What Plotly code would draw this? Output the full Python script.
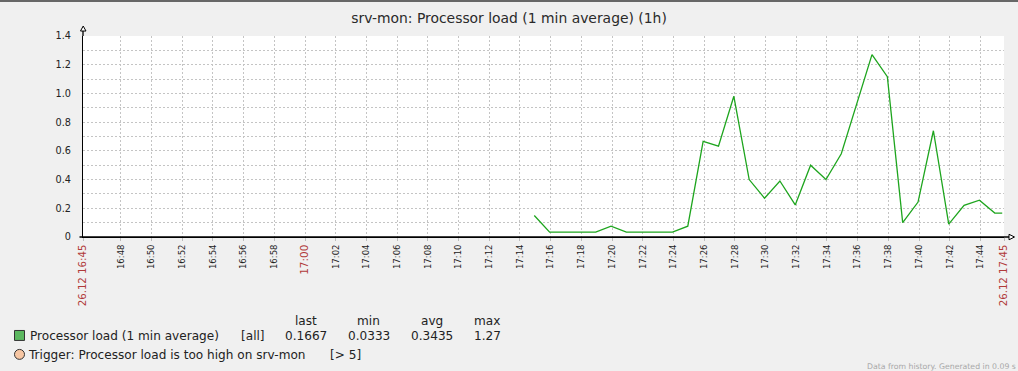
import plotly.graph_objects as go

# ---------------- data ----------------
DAY = "2023-12-26"
TITLE = "srv-mon: Processor load (1 min average) (1h)"
RANGE_START = "16:45:32"
RANGE_END = "17:45:32"
EDGE_LABELS = ["26.12 16:45", "26.12 17:45"]

times = [
    "17:14:56", "17:15:56", "17:16:56", "17:17:56", "17:18:56", "17:19:56",
    "17:20:56", "17:21:56", "17:22:56", "17:23:56", "17:24:56", "17:25:56",
    "17:26:56", "17:27:56", "17:28:56", "17:29:56", "17:30:56", "17:31:56",
    "17:32:56", "17:33:56", "17:34:56", "17:35:56", "17:36:56", "17:37:56",
    "17:38:56", "17:39:56", "17:40:56", "17:41:56", "17:42:56", "17:43:56",
    "17:44:56", "17:45:25",
]
load = [
    0.15, 0.0333, 0.0333, 0.0333, 0.0333, 0.075, 0.0333, 0.0333, 0.0333, 0.0333,
    0.075, 0.6667, 0.6333, 0.98, 0.40, 0.27, 0.39, 0.2233, 0.50, 0.40,
    0.58, 0.93, 1.27, 1.1167, 0.10, 0.2433, 0.74, 0.09, 0.22, 0.2567,
    0.1667, 0.1667,
]
minute_ticks = [
    "16:48", "16:50", "16:52", "16:54", "16:56", "16:58", "17:00", "17:02",
    "17:04", "17:06", "17:08", "17:10", "17:12", "17:14", "17:16", "17:18",
    "17:20", "17:22", "17:24", "17:26", "17:28", "17:30", "17:32", "17:34",
    "17:36", "17:38", "17:40", "17:42", "17:44",
]
highlight_ticks = ["17:00"]
y_ticks = [0, 0.1, 0.2, 0.3, 0.4, 0.5, 0.6, 0.7, 0.8, 0.9, 1.0, 1.1, 1.2, 1.3, 1.4]
y_labels = ["0", "", "0.2", "", "0.4", "", "0.6", "", "0.8", "", "1.0", "", "1.2", "", "1.4"]

series_name = "Processor load (1 min average)"
series_func = "[all]"
stat_headers = ["last", "min", "avg", "max"]
stat_values = ["0.1667", "0.0333", "0.3435", "1.27"]
trigger_text = "Trigger: Processor load is too high on srv-mon"
trigger_cond = "[> 5]"
footer = "Data from history. Generated in 0.09 s"

# ---------------- style ----------------
W, H = 1018, 371
L, R, T, B = 83, 1004, 35.5, 237.2
RED = "#b03a3a"
TXT = "#222222"
LINE_GREEN = "#1ea51e"
BOX_GREEN = "#5cb860"
GRID = "#c4c4c4"
FONT = "DejaVu Sans"


def px(x):
    return (x - L) / (R - L)


def py(y):
    return (B - y) / (B - T)


def ts(t):
    return f"{DAY} {t}"


tickvals = [ts(RANGE_START)] + [ts(t) for t in minute_ticks] + [ts(RANGE_END)]
ticktext = [f'<span style="font-size:10.2px;color:{RED}">{EDGE_LABELS[0]}</span>']
for t in minute_ticks:
    if t in highlight_ticks:
        ticktext.append(f'<span style="font-size:10.5px;color:{RED}">{t}</span>')
    else:
        ticktext.append(t)
ticktext.append(f'<span style="font-size:10.2px;color:{RED}">{EDGE_LABELS[1]}</span>')

fig = go.Figure()
fig.add_trace(go.Scatter(
    x=[ts(t) for t in times], y=load, mode="lines",
    line=dict(color=LINE_GREEN, width=1.3), showlegend=False,
    hoverinfo="x+y",
))

fig.update_layout(
    width=W, height=H,
    margin=dict(l=L, r=W - R, t=T, b=H - B, pad=0, autoexpand=False),
    paper_bgcolor="#f0f0f0", plot_bgcolor="#ffffff",
    font=dict(family=FONT, color=TXT, size=9),
    title=dict(text=TITLE, x=0.5, xref="container", xanchor="center",
               y=1 - 18 / H, yref="container", yanchor="middle",
               font=dict(family=FONT, size=13.9, color="#2a2a2a")),
    showlegend=False,
)

fig.update_xaxes(
    type="date", range=[ts(RANGE_START), ts(RANGE_END)],
    tickmode="array", tickvals=tickvals, ticktext=ticktext,
    tickangle=-90, tickfont=dict(family=FONT, size=8.5, color=TXT),
    ticks="outside", ticklen=3, tickcolor="#bbbbbb", tickwidth=1,
    showgrid=True, gridcolor=GRID, griddash="2px,2px", gridwidth=1,
    showline=True, linecolor="#000000", linewidth=1.3,
    zeroline=False, fixedrange=True, automargin=False,
)
fig.update_yaxes(
    range=[0, 1.4], tickmode="array", tickvals=y_ticks, ticktext=y_labels,
    tickfont=dict(family=FONT, size=9.7, color=TXT),
    ticks="", ticklabelstandoff=9,
    showgrid=True, gridcolor=GRID, griddash="2px,2px", gridwidth=1,
    showline=True, linecolor="#000000", linewidth=1.3,
    zeroline=False, fixedrange=True, automargin=False,
)

shapes = []
# top dark border
shapes.append(dict(type="line", xref="paper", yref="paper",
                   x0=px(0), x1=px(W), y0=py(0.5), y1=py(0.5),
                   line=dict(color="#3a3a3a", width=1.5)))
# y axis extension and arrow
shapes.append(dict(type="line", xref="paper", yref="paper",
                   x0=0, x1=0, y0=1, y1=py(30.5),
                   line=dict(color="#000", width=1.3)))
shapes.append(dict(type="path", xref="paper", yref="paper",
                   path=f"M {px(80.5)},{py(30.5)} L {px(86)},{py(30.5)} L {px(83.2)},{py(25.5)} Z",
                   line=dict(color="#000", width=1), fillcolor="#ffffff"))
# x axis extension and arrow
shapes.append(dict(type="line", xref="paper", yref="paper",
                   x0=px(79.5), x1=px(1009), y0=0, y1=0,
                   line=dict(color="#000", width=1.3)))
shapes.append(dict(type="path", xref="paper", yref="paper",
                   path=f"M {px(1009)},{py(234.5)} L {px(1009)},{py(240)} L {px(1014.5)},{py(237.2)} Z",
                   line=dict(color="#000", width=1), fillcolor="#ffffff"))
# legend square
shapes.append(dict(type="rect", xref="paper", yref="paper",
                   x0=px(14.5), x1=px(24.5), y0=py(331), y1=py(341),
                   line=dict(color="#333", width=1), fillcolor=BOX_GREEN))
# trigger circle
shapes.append(dict(type="circle", xref="paper", yref="paper",
                   x0=px(14.5), x1=px(24.5), y0=py(350), y1=py(360),
                   line=dict(color="#333", width=1), fillcolor="#f7c6a3"))
fig.update_layout(shapes=shapes)

ann = []
LF = dict(family=FONT, size=12.1, color=TXT)
stat_cx = [305.7, 368.5, 432, 487]
for cx, h, v in zip(stat_cx, stat_headers, stat_values):
    ann.append(dict(text=h, x=px(cx), y=py(321.5), xanchor="center", yanchor="middle"))
    ann.append(dict(text=v, x=px(cx), y=py(336.5), xanchor="center", yanchor="middle"))
ann.append(dict(text=series_name, x=px(27.5), y=py(336.5), xanchor="left", yanchor="middle"))
ann.append(dict(text=series_func, x=px(238.5), y=py(336.5), xanchor="left", yanchor="middle"))
ann.append(dict(text=trigger_text, x=px(26.3), y=py(355.5), xanchor="left", yanchor="middle"))
ann.append(dict(text=trigger_cond, x=px(327.5), y=py(355.5), xanchor="left", yanchor="middle"))
for a in ann:
    a.update(xref="paper", yref="paper", showarrow=False, font=LF)
ann.append(dict(text=footer, x=px(1017.5), y=py(367), xref="paper", yref="paper",
                xanchor="right", yanchor="middle", showarrow=False,
                font=dict(family=FONT, size=7.75, color="#a8a8a8")))
fig.update_layout(annotations=ann)

fig.write_html(
    "out.html",
    config={"displayModeBar": False},
    post_script="document.body.style.margin='0';document.body.style.padding='0';"
                "document.body.style.overflow='hidden';",
)
